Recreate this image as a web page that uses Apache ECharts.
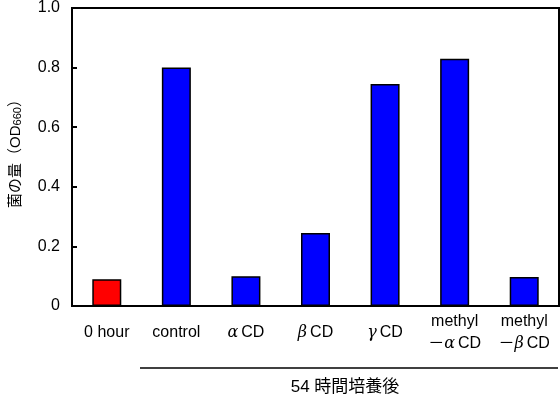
<!DOCTYPE html>
<html>
<head>
<meta charset="utf-8">
<script src="https://cdn.jsdelivr.net/npm/echarts@6/dist/echarts.min.js"></script>
<style>
  html, body { margin: 0; padding: 0; background: #fff; }
  #chart { width: 560px; height: 399px; }
</style>
</head>
<body>
<div id="chart"></div>
<script>
// 培養条件
var categories = ["0 hour", "control", "αCD", "βCD", "γCD", "methyl\n－αCD", "methyl\n－βCD"];
// 菌の量 (OD660)
var values = [0.09, 0.80, 0.10, 0.245, 0.745, 0.83, 0.097];
var barColors = ["#FF0000", "#0000FF", "#0000FF", "#0000FF", "#0000FF", "#0000FF", "#0000FF"];

var latin = "'Liberation Sans', Arial, 'Noto Sans CJK JP', sans-serif";
var cjk = "'Liberation Sans', 'Noto Sans CJK JP', sans-serif";

var chart = echarts.init(document.getElementById("chart"));

// ギリシャ文字だけ斜体にする
function fmtLabel(s) {
  return s.replace(/([αβγ])/g, "{g|$1}");
}

var option = {
  animation: false,
  grid: {
    left: 69,
    right: 1,
    top: 8,
    bottom: 93,
    show: true,
    borderColor: "#000",
    borderWidth: 2,
    backgroundColor: "transparent",
  },
  xAxis: {
    type: "category",
    data: categories,
    axisLine: { lineStyle: { color: "#000", width: 2 } },
    axisTick: { inside: true, length: 7, lineStyle: { color: "#000", width: 2 } },
    axisLabel: {
      interval: 0,
      margin: 27,
      verticalAlign: "middle",
      color: "#000",
      fontSize: 16,
      fontFamily: latin,
      lineHeight: 22,
      formatter: function (v) {
        return fmtLabel(v);
      },
      rich: {
        g: {
          fontFamily: "'DejaVu Serif', serif",
          fontStyle: "italic",
          fontSize: 16,
          color: "#000",
          lineHeight: 22,
          padding: [0, 3, 0, 0],
        },
      },
    },
  },
  yAxis: {
    type: "value",
    min: 0,
    max: 1,
    interval: 0.2,
    name: "菌の量（OD{s|660}）",
    nameLocation: "middle",
    nameRotate: 90,
    nameGap: 49,
    nameTextStyle: {
      color: "#000",
      fontSize: 15,
      fontFamily: cjk,
      padding: [0, 0, 0, 14],
      rich: {
        s: { fontSize: 11, fontFamily: latin, color: "#000", padding: [4, 0, 0, 0] },
      },
    },
    splitLine: { show: false },
    axisLine: { show: true, lineStyle: { color: "#000", width: 2 } },
    axisTick: { show: true, inside: true, length: 5, lineStyle: { color: "#000", width: 2 } },
    axisLabel: {
      margin: 12,
      color: "#000",
      fontSize: 16,
      fontFamily: latin,
      formatter: function (v) {
        return v === 0 ? "0" : v.toFixed(1);
      },
    },
  },
  series: [
    {
      type: "bar",
      barWidth: 29,
      data: values.map(function (v, i) {
        return { value: v, itemStyle: { color: barColors[i] } };
      }),
      itemStyle: { borderColor: "#000", borderWidth: 1.5 },
    },
  ],
  graphic: [
    {
      type: "line",
      shape: { x1: 140, y1: 368, x2: 558, y2: 368 },
      style: { stroke: "#000", lineWidth: 1.5 },
    },
    {
      type: "text",
      x: 345,
      y: 387,
      style: {
        text: "54 時間培養後",
        font: "17px " + cjk,
        fill: "#000",
        align: "center",
        verticalAlign: "middle",
      },
    },
  ],
};

chart.setOption(option);
</script>
</body>
</html>
